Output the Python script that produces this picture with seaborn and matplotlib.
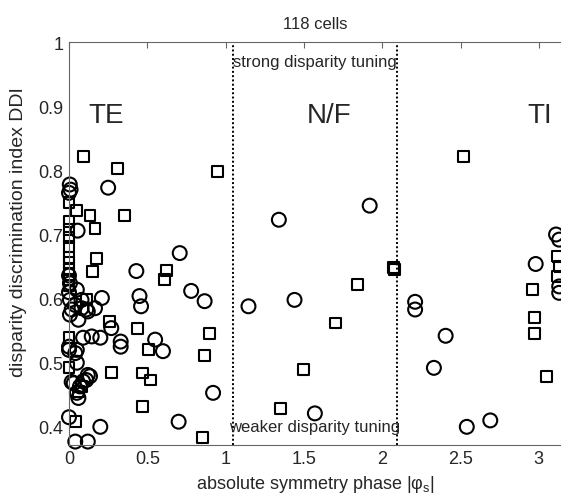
import numpy as np
import pandas as pd
import matplotlib
matplotlib.use("Agg")
import matplotlib.pyplot as plt
from matplotlib.ticker import FormatStrFormatter
import seaborn as sns

# absolute symmetry phase |phi_s| and DDI
circle_phi = [0.005, 0.01, 0.0, 0.25, 0.055, 0.43, 0.707, 0.78, 0.866, 0.45, 0.46,
              0.55, 0.60, 0.92, 0.70, 0.0, 0.006, 0.05, 0.0, 0.006, 0.08, 0.21,
              0.017, 0.11, 0.04, 0.08, 0.12, 0.166, 0.006, 0.06, 0.27, 0.33, 0.33,
              0.09, 0.145, 0.2, 0.0, 0.05, 0.0, 0.04, 0.05, 0.12, 0.134, 0.11, 0.09,
              0.07, 0.03, 0.017, 0.05, 0.06, 0.0, 0.2, 0.04, 0.12,
              1.34, 1.92, 1.146, 1.44, 1.57,
              2.21, 2.21, 2.405, 2.33, 2.54, 2.69, 2.98, 3.11, 3.13, 3.13, 3.13]
circle_ddi = [0.778, 0.770, 0.765, 0.773, 0.706, 0.643, 0.671, 0.612, 0.596, 0.604, 0.588,
              0.536, 0.518, 0.453, 0.408, 0.636, 0.624, 0.614, 0.61, 0.598, 0.598, 0.601,
              0.583, 0.583, 0.59, 0.585, 0.58, 0.585, 0.575, 0.567, 0.554, 0.533, 0.525,
              0.539, 0.541, 0.539, 0.525, 0.52, 0.52, 0.515, 0.50, 0.481, 0.479, 0.473, 0.471,
              0.463, 0.468, 0.47, 0.453, 0.445, 0.415, 0.40, 0.377, 0.377,
              0.723, 0.745, 0.588, 0.598, 0.421,
              0.595, 0.583, 0.542, 0.492, 0.40, 0.41, 0.654, 0.70, 0.692, 0.619, 0.609]

square_phi = [0.09, 0.31, 0.95, 0.0, 0.0, 0.0, 0.0, 0.0, 0.0, 0.0, 0.0, 0.0,
              0.05, 0.134, 0.357, 0.166, 0.176, 0.15, 0.62, 0.61, 0.11,
              0.26, 0.44, 0.9, 0.505, 0.866, 0.27, 0.47, 0.52, 0.47, 0.85,
              0.0, 0.08, 0.06, 0.04, 0.0, 0.0,
              1.84, 1.70, 1.50, 1.35, 2.07, 2.078,
              2.52, 2.96, 2.97, 2.97, 3.05, 3.12, 3.13, 3.12]
square_ddi = [0.822, 0.803, 0.798, 0.75, 0.721, 0.708, 0.695, 0.682, 0.664, 0.656, 0.645, 0.63,
              0.7375, 0.729, 0.729, 0.709, 0.662, 0.643, 0.644, 0.63, 0.598,
              0.565, 0.554, 0.546, 0.52, 0.511, 0.485, 0.484, 0.473, 0.432, 0.384,
              0.492, 0.463, 0.455, 0.408, 0.54, 0.62,
              0.622, 0.562, 0.489, 0.429, 0.648, 0.645,
              0.822, 0.614, 0.571, 0.545, 0.479, 0.666, 0.65, 0.635]

region_labels = ["TE", "N/F", "TI"]

circles = pd.DataFrame({"phi": circle_phi, "ddi": circle_ddi})
squares = pd.DataFrame({"phi": square_phi, "ddi": square_ddi})

sns.set_style("white")
plt.rcParams["font.family"] = ["Liberation Sans", "DejaVu Sans"]

fig = plt.figure(figsize=(5.61, 5.02), dpi=100)
ax = fig.add_axes([0.123, 0.112, 0.877, 0.802])

sns.scatterplot(data=circles, x="phi", y="ddi", marker="o", s=100,
                facecolor="none", edgecolor="black", linewidth=1.5, ax=ax, clip_on=False)
sns.scatterplot(data=squares, x="phi", y="ddi", marker="s", s=62,
                facecolor="none", edgecolor="black", linewidth=1.5, ax=ax, clip_on=False)

# category boundaries
for b in [np.pi / 3, 2 * np.pi / 3]:
    ax.axvline(b, color="black", linestyle=(0, (1, 1.2)), linewidth=1.4)

ax.set_xlim(0, np.pi)
ax.set_ylim(0.372, 1)
ax.set_xticks(np.arange(0, 3.01, 0.5))
ax.set_yticks(np.arange(0.4, 1.01, 0.1))
ax.xaxis.set_major_formatter(FormatStrFormatter("%g"))
ax.yaxis.set_major_formatter(FormatStrFormatter("%g"))
ax.tick_params(direction="in", top=True, right=False, labelsize=13, length=4,
               color="0.4", pad=4)
for side in ["left", "bottom", "top"]:
    ax.spines[side].set_color("0.4")
    ax.spines[side].set_linewidth(0.8)
ax.spines["right"].set_visible(False)

ax.text(0.24, 0.887, region_labels[0], fontsize=20, ha="center", va="center")
ax.text(1.66, 0.887, region_labels[1], fontsize=20, ha="center", va="center")
ax.text(2.93, 0.887, region_labels[2], fontsize=20, ha="left", va="center")
ax.text(np.pi / 2, 0.97, "strong disparity tuning", fontsize=12, ha="center", va="center")
ax.text(np.pi / 2, 0.40, "weaker disparity tuning", fontsize=12, ha="center", va="center")

ax.set_title("118 cells", fontsize=12, pad=10)
ax.set_xlabel("absolute symmetry phase |φ$_{\\mathregular{s}}$|", fontsize=13)
ax.set_ylabel("disparity discrimination index DDI", fontsize=14)
ax.yaxis.set_label_coords(-0.085, 0.53)

fig.savefig("out.png", dpi=100)
